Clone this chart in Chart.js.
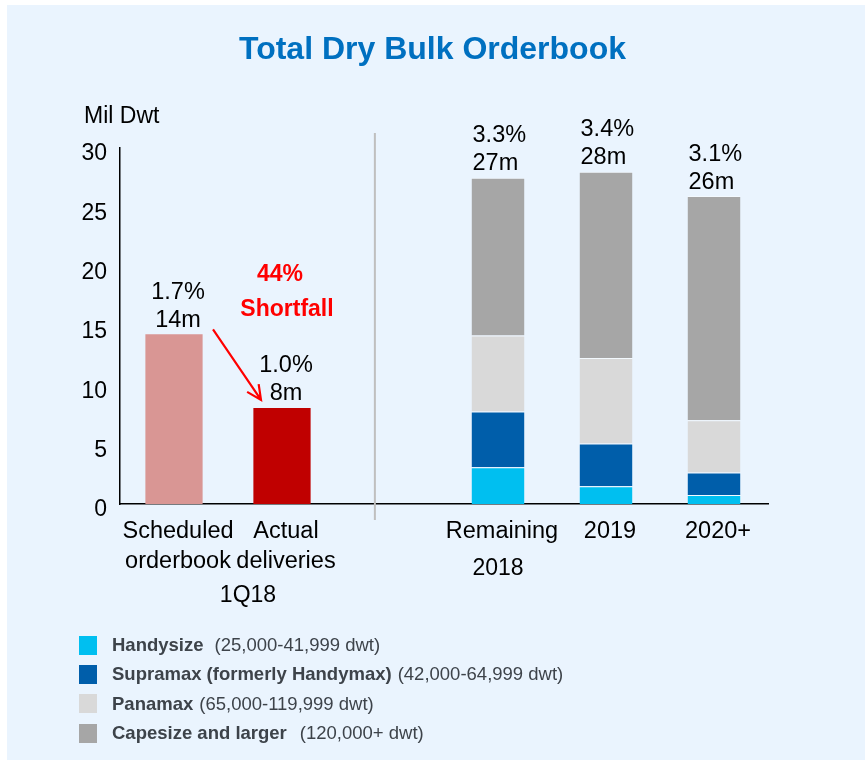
<!DOCTYPE html>
<html>
<head>
<meta charset="utf-8">
<script src="https://cdn.jsdelivr.net/npm/chart.js@4.4.0/dist/chart.umd.min.js"></script>
<style>
  html, body { margin: 0; padding: 0; background: #fff; font-family: "Liberation Sans", Arial, sans-serif; }
  #page { position: absolute; left: 7px; top: 5px; width: 858px; height: 755px; background: #EAF4FE; }
  #chart { position: absolute; left: 0; top: 0; }
  #title { position: absolute; left: 0; top: 28px; width: 865px; text-align: center; line-height: 40px;
           font-size: 32px; font-weight: bold; color: #0070C0; }
  #unit { position: absolute; left: 84px; top: 100px; line-height: 30px; font-size: 23px; color: #000; }
  #legend { position: absolute; left: 79px; top: 630px; }
  .row { height: 29.3px; line-height: 29.3px; font-size: 18.5px; color: #3d434a; white-space: nowrap; }
  .sw { display: inline-block; width: 18px; height: 19px; vertical-align: middle; margin-right: 15px; position: relative; top: -1px; }
  .nm { font-weight: bold; }
</style>
</head>
<body>
<div id="page"></div>
<canvas id="chart" width="865" height="760"></canvas>
<div id="title">Total Dry Bulk Orderbook</div>
<div id="unit">Mil Dwt</div>
<div id="legend"></div>
<script>
// categories (third slot is the empty gap between the two groups)
var categories = [["Scheduled", "orderbook"], ["Actual", "deliveries"], "", "Remaining", "2019", "2020+"];
var groupLabels = ["1Q18", "2018"];

// 1Q18 bars
var q1Values = [14.3, 8.1, null, null, null, null];
var q1Colors = ["#D99694", "#C00000", null, null, null, null];

// orderbook by ship class, million dwt
var handysize = [null, null, null, 3.1, 1.5, 0.75];
var supramax  = [null, null, null, 4.7, 3.6, 1.9];
var panamax   = [null, null, null, 6.4, 7.2, 4.4];
var capesize  = [null, null, null, 13.3, 15.7, 18.9];

var pctLabels = ["1.7%", "1.0%", "", "3.3%", "3.4%", "3.1%"];
var amtLabels = ["14m", "8m", "", "27m", "28m", "26m"];

var seriesNames  = ["Handysize", "Supramax (formerly Handymax)", "Panamax", "Capesize and larger"];
var seriesRanges = ["(25,000-41,999 dwt)", "(42,000-64,999 dwt)", "(65,000-119,999 dwt)", "(120,000+ dwt)"];
var seriesColors = ["#00BFF0", "#005EAA", "#D9D9D9", "#A6A6A6"];
var seriesData = [handysize, supramax, panamax, capesize];

var FONT = '"Liberation Sans", Arial, sans-serif';

// legend
var legendGap = [11, 6, 6, 13];
var lg = document.getElementById('legend');
seriesNames.forEach(function (n, i) {
  var r = document.createElement('div');
  r.className = 'row';
  r.innerHTML = '<span class="sw" style="background:' + seriesColors[i] + '"></span>' +
    '<span class="nm">' + n + '</span><span style="margin-left:' + legendGap[i] + 'px">' + seriesRanges[i] + '</span>';
  lg.appendChild(r);
});

var datasets = [{
  label: '1Q18', data: q1Values, backgroundColor: q1Colors, stack: 's',
  barPercentage: 0.53, categoryPercentage: 1
}];
seriesNames.forEach(function (n, i) {
  datasets.push({
    label: n, data: seriesData[i], backgroundColor: seriesColors[i], stack: 's',
    barPercentage: 0.49, categoryPercentage: 1,
    borderColor: 'rgba(255,255,255,0.45)', borderWidth: { top: 1, left: 0, right: 0, bottom: 0 }, borderSkipped: false
  });
});

var overlay = {
  id: 'overlay',
  afterDatasetsDraw: function (chart) {
    var ctx = chart.ctx, xs = chart.scales.x, ys = chart.scales.y;
    var step = xs.getPixelForValue(1) - xs.getPixelForValue(0);
    ctx.save();

    // separator between the two groups
    var sx = xs.getPixelForValue(2) - 0.14 * step;
    ctx.strokeStyle = '#BFBFBF';
    ctx.lineWidth = 2;
    ctx.beginPath();
    ctx.moveTo(sx, ys.top - 15);
    ctx.lineTo(sx, ys.bottom + 16);
    ctx.stroke();

    // value labels above bars
    ctx.fillStyle = '#000';
    ctx.font = '23.5px ' + FONT;
    ctx.textBaseline = 'middle';
    for (var i = 0; i < categories.length; i++) {
      if (!amtLabels[i]) continue;
      var total = 0, bar = null;
      chart.data.datasets.forEach(function (ds, k) {
        if (ds.data[i] != null) { total += ds.data[i]; bar = chart.getDatasetMeta(k).data[i]; }
      });
      var top = ys.getPixelForValue(total);
      var tx;
      if (q1Values[i] != null) { ctx.textAlign = 'center'; tx = bar.x + 4; }
      else { ctx.textAlign = 'left'; tx = bar.x - bar.width / 2 + 1; }
      ctx.fillText(amtLabels[i], tx, top - 14);
      ctx.fillText(pctLabels[i], tx, top - 42);
    }

    // group labels under the axis
    ctx.textAlign = 'center';
    var p0 = xs.getPixelForValue(0), p1 = xs.getPixelForValue(1), p3 = xs.getPixelForValue(3);
    ctx.font = '23px ' + FONT;
    ctx.fillText(groupLabels[0], (p0 + p1) / 2 + 20, xs.top + 92);
    ctx.fillText(groupLabels[1], p3, xs.top + 65);

    // shortfall annotation
    ctx.fillStyle = '#FF0000';
    ctx.font = 'bold 23px ' + FONT;
    ctx.fillText('44%', p1 - 2, ys.getPixelForValue(19.3));
    ctx.fillText('Shortfall', p1 + 5, ys.getPixelForValue(16.35));

    var ax0 = p0 + 39, ay0 = ys.getPixelForValue(q1Values[0]) - 5;
    var ax1 = p1 - 21, ay1 = ys.getPixelForValue(q1Values[1]) - 8;
    ctx.strokeStyle = '#FF0000';
    ctx.lineWidth = 2.2;
    ctx.beginPath();
    ctx.moveTo(ax0, ay0);
    ctx.lineTo(ax1, ay1);
    var ang = Math.atan2(ay1 - ay0, ax1 - ax0), hl = 16;
    ctx.moveTo(ax1 - hl * Math.cos(ang - 0.45), ay1 - hl * Math.sin(ang - 0.45));
    ctx.lineTo(ax1, ay1);
    ctx.lineTo(ax1 - hl * Math.cos(ang + 0.45), ay1 - hl * Math.sin(ang + 0.45));
    ctx.stroke();
    ctx.restore();
  }
};

new Chart(document.getElementById('chart'), {
  type: 'bar',
  data: { labels: categories, datasets: datasets },
  options: {
    responsive: false,
    animation: false,
    layout: { padding: { left: 60, right: 97, top: 148, bottom: 156 } },
    plugins: { legend: { display: false }, tooltip: { enabled: false }, title: { display: false } },
    scales: {
      x: {
        stacked: true,
        grid: { display: false, drawTicks: false },
        border: { display: true, color: '#000', width: 1.5 },
        ticks: { color: '#000', font: { family: FONT, size: 23.5, lineHeight: 1.28 }, padding: 12,
                 labelOffset: 4, maxRotation: 0, autoSkip: false },
        afterFit: function (s) { s.height = 100; }
      },
      y: {
        stacked: true, min: 0, max: 30,
        grid: { display: false, drawTicks: false },
        border: { display: true, color: '#000', width: 1.5 },
        ticks: { stepSize: 5, color: '#000', font: { family: FONT, size: 23 }, padding: 13, labelOffset: 6 },
        afterFit: function (s) { s.width = 60; }
      }
    }
  },
  plugins: [overlay]
});
</script>
</body>
</html>
